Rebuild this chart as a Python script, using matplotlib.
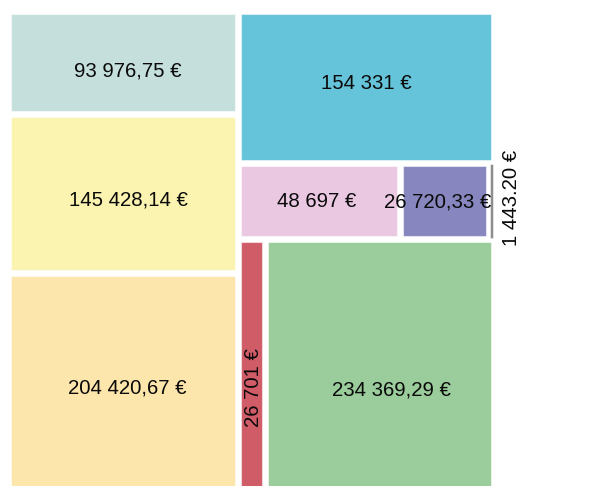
import matplotlib
matplotlib.use("Agg")
import matplotlib.pyplot as plt
from matplotlib.patches import Rectangle

plt.rcParams['font.family'] = ['Liberation Sans', 'DejaVu Sans']

# data
labels = ["93 976,75 €", "145 428,14 €", "204 420,67 €",
          "154 331 €", "48 697 €", "26 720,33 €", "1 443.20 €",
          "26 701 €", "234 369,29 €"]
values = [93976.75, 145428.14, 204420.67,
          154331, 48697, 26720.33, 1443.20,
          26701, 234369.29]
colors = ["#c5e0dc", "#faf4b0", "#fde6ab",
          "#66c4da", "#ebc8e2", "#8786bf", "#8a8a8a",
          "#d05c68", "#9bcc9b"]
# treemap arrangement: columns -> rows -> items (indices into values)
columns = [[[0], [1], [2]],
           [[3], [4, 5, 6], [7, 8]]]
# small label nudges (px) seen in the original
label_dx = [5, 5, 4, 0, -2.5, 0, 0, 0.5, 12]
label_dy = [6.5, 5, 1.5, -5.5, -2, -1.5, -3, 19, 20]

W, H = 486, 486
PAD = 3
FS = 14.7
fs_px = FS * 100 / 72
TXT = '#0a0a0a'

fig = plt.figure(figsize=(5.99, 4.86), dpi=100)
ax = fig.add_axes([8 / 599, (486 - 497) / 486, W / 599, H / 486])
ax.set_xlim(0, W)
ax.set_ylim(H, 0)
ax.axis('off')

total = sum(values)
cells = {}
x0 = 0
for col in columns:
    col_sum = sum(values[i] for row in col for i in row)
    cw = W * col_sum / total
    y0 = 0
    for row in col:
        row_sum = sum(values[i] for i in row)
        rh = H * row_sum / col_sum
        xx = x0
        for i in row:
            w = cw * values[i] / row_sum
            cells[i] = (xx, y0, w, rh)
            xx += w
        y0 += rh
    x0 += cw

texts = []
for i, (x, y, w, h) in cells.items():
    p = min(PAD, w * 0.2, h * 0.2)
    ax.add_patch(Rectangle((x + p, y + p), w - 2 * p, h - 2 * p,
                           facecolor=colors[i], edgecolor=(1, 1, 1, 0.5), lw=0.8))
    cx, cy = x + w / 2 + label_dx[i], y + h / 2 + label_dy[i]
    if w < 10:
        # too thin: label outside, to the right
        t = ax.text(x + w + 16 + 0.358 * fs_px, cy, labels[i], rotation=90,
                    rotation_mode='anchor', ha='center', va='baseline',
                    fontsize=FS, color=TXT, clip_on=False)
    elif w < 60 and h > w:
        t = ax.text(cx + 0.358 * fs_px, cy, labels[i], rotation=90,
                    rotation_mode='anchor', ha='center', va='baseline',
                    fontsize=FS, color=TXT)
    else:
        t = ax.text(cx, cy + 0.358 * fs_px, labels[i], ha='center', va='baseline',
                    fontsize=FS, color=TXT)
        texts.append(t)

# keep horizontal labels from running past the right edge of the area
fig.canvas.draw()
r = fig.canvas.get_renderer()
for t in texts:
    bb = t.get_window_extent(r).transformed(ax.transData.inverted())
    limit = W - PAD
    x1 = max(bb.x0, bb.x1)
    if x1 > limit:
        tx, ty = t.get_position()
        t.set_position((tx - (x1 - limit), ty))

fig.savefig("out.png", dpi=100)
